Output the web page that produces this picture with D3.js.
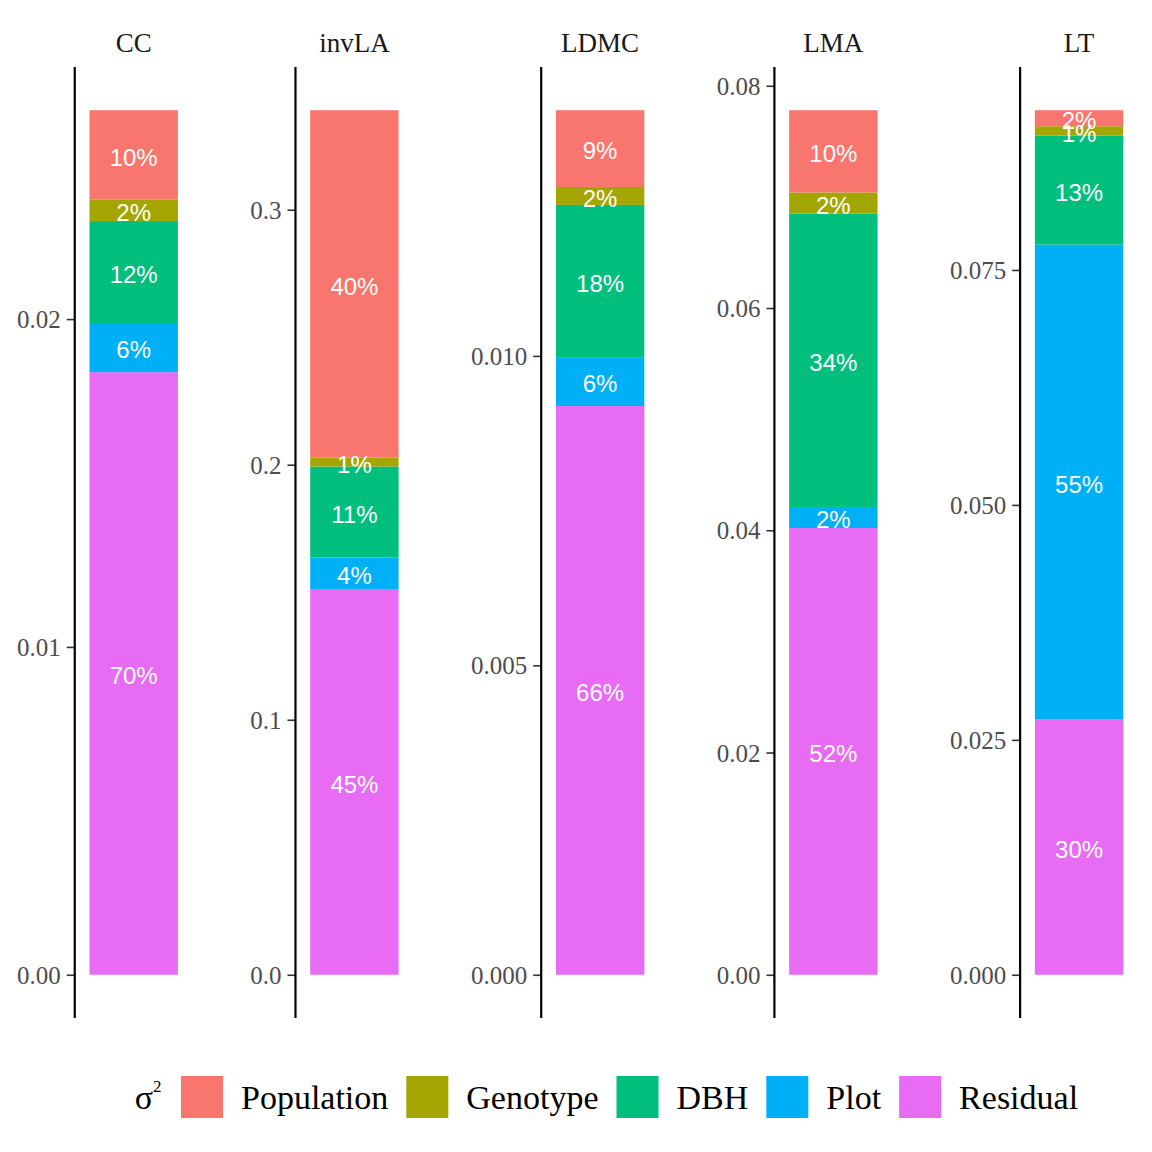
<!DOCTYPE html>
<html>
<head>
<meta charset="utf-8">
<script src="https://cdn.jsdelivr.net/npm/d3@7"></script>
<style>
  html, body { margin: 0; padding: 0; background: #fff; }
  svg { display: block; }
</style>
</head>
<body>
<svg id="chart" width="1152" height="1152"></svg>
<script>
// ---- data ----
const traits = ["CC", "invLA", "LDMC", "LMA", "LT"];
const components = ["Population", "Genotype", "DBH", "Plot", "Residual"];
const colors = ["#F8766D", "#A3A500", "#00BF7D", "#00B0F6", "#E76BF3"];

const population = [0.00273, 0.1362, 0.00124, 0.0074, 0.0017];
const genotype   = [0.00065, 0.0035, 0.00029, 0.0019, 0.0010];
const dbh        = [0.00311, 0.0357, 0.00246, 0.0264, 0.0116];
const plotVar    = [0.00150, 0.0126, 0.00079, 0.0019, 0.0505];
const residual   = [0.01838, 0.151,  0.00919, 0.0402, 0.0272];

const tickValues = [
  [0, 0.01, 0.02],
  [0, 0.1, 0.2, 0.3],
  [0, 0.005, 0.010],
  [0, 0.02, 0.04, 0.06, 0.08],
  [0, 0.025, 0.050, 0.075]
];
const tickLabels = [
  ["0.00", "0.01", "0.02"],
  ["0.0", "0.1", "0.2", "0.3"],
  ["0.000", "0.005", "0.010"],
  ["0.00", "0.02", "0.04", "0.06", "0.08"],
  ["0.000", "0.025", "0.050", "0.075"]
];

// ---- build table ----
const seriesByComp = {
  Population: population, Genotype: genotype, DBH: dbh, Plot: plotVar, Residual: residual
};
const table = traits.map((t, i) => {
  const row = { trait: t };
  components.forEach(c => row[c] = seriesByComp[c][i]);
  return row;
});
// stack order: Residual at bottom, Population on top
const stackKeys = components.slice().reverse();
const stacked = d3.stack().keys(stackKeys)(table);

const color = d3.scaleOrdinal().domain(components).range(colors);

const svg = d3.select("#chart");
const W = 1152, H = 1152;

const serif = "'Liberation Serif', 'Times New Roman', serif";
const sans = "'Liberation Sans', Arial, Helvetica, sans-serif";
const tickFont = 25, stripFont = 27, labelFont = 24, legendFont = 34;

// measure tick label widths
const measure = svg.append("g").attr("opacity", 0);
function textWidth(str, size, family) {
  const t = measure.append("text").attr("font-size", size).attr("font-family", family).text(str);
  const w = t.node().getComputedTextLength();
  t.remove();
  return w;
}
const labelW = tickLabels.map(arr => d3.max(arr, s => textWidth(s, tickFont, serif)));

const marginL = 17, marginR = 14, spacing = 57.6, tickLen = 8, tickGap = 6;
const panelTop = 67, panelBottom = 1018;
const panelW = (W - marginL - marginR - 4 * spacing - d3.sum(labelW) - 5 * (tickLen + tickGap)) / 5;

let xCursor = marginL;
const panelX = [];
traits.forEach((t, i) => {
  xCursor += labelW[i] + tickGap + tickLen;
  panelX.push(xCursor);
  xCursor += panelW + spacing;
});

traits.forEach((t, i) => {
  const total = d3.sum(components, c => seriesByComp[c][i]);
  const y = d3.scaleLinear().domain([-0.05 * total, 1.05 * total]).range([panelBottom, panelTop]);
  // discrete x: bar width 0.9 within 1.2 range units
  const x = d3.scaleLinear().domain([0.4, 1.6]).range([0, panelW]);
  const barX = x(1 - 0.45);
  const barW = x(1 + 0.45) - barX;

  const g = svg.append("g").attr("transform", `translate(${panelX[i]},0)`);

  // bars
  stacked.forEach(layer => {
    const d = layer[i];
    g.append("rect")
      .attr("x", barX)
      .attr("width", barW)
      .attr("y", y(d[1]))
      .attr("height", y(d[0]) - y(d[1]))
      .attr("fill", color(layer.key));
  });

  // labels
  stacked.forEach(layer => {
    const d = layer[i];
    const pct = Math.round((d[1] - d[0]) / total * 100);
    g.append("text")
      .attr("x", x(1))
      .attr("y", y((d[0] + d[1]) / 2))
      .attr("dy", "0.45em")
      .attr("text-anchor", "middle")
      .attr("font-family", sans)
      .attr("font-size", labelFont)
      .attr("fill", "#ffffff")
      .text(pct + "%");
  });

  // axis
  const axis = d3.axisLeft(y)
    .tickValues(tickValues[i])
    .tickFormat((v, k) => tickLabels[i][k])
    .tickSize(tickLen)
    .tickPadding(tickGap);
  const ag = g.append("g").call(axis);
  ag.select(".domain").remove();
  ag.append("line")
    .attr("x1", 0).attr("x2", 0)
    .attr("y1", panelTop).attr("y2", panelBottom)
    .attr("stroke", "#000").attr("stroke-width", 2.2);
  ag.selectAll(".tick line").attr("stroke", "#333333").attr("stroke-width", 1.6);
  ag.selectAll(".tick text")
    .attr("font-family", serif)
    .attr("font-size", tickFont)
    .attr("fill", "#4D4D4D")
    .attr("dy", "0.34em");

  // strip title
  g.append("text")
    .attr("x", x(1))
    .attr("y", 52)
    .attr("text-anchor", "middle")
    .attr("font-family", serif)
    .attr("font-size", stripFont)
    .attr("fill", "#1A1A1A")
    .text(t);
});

// ---- legend ----
const legendY = 1097, keySize = 42, keyGap = 18, itemGap = 18;
const titleW = textWidth("σ", legendFont, serif) + 9;
const itemW = components.map(c => keySize + keyGap + textWidth(c, legendFont, serif));
const totalW = titleW + 19 + d3.sum(itemW) + itemGap * (components.length - 1);
const panelsLeft = panelX[0], panelsRight = panelX[4] + panelW;
let lx = (panelsLeft + panelsRight) / 2 - totalW / 2;

const lg = svg.append("g");
const title = lg.append("text")
  .attr("x", lx)
  .attr("y", legendY + 12)
  .attr("font-family", serif)
  .attr("font-size", legendFont)
  .attr("fill", "#000");
title.append("tspan").text("σ");
title.append("tspan").attr("font-size", 17).attr("dy", -17).text("2");
lx += titleW + 19;

components.forEach((c, k) => {
  lg.append("rect")
    .attr("x", lx).attr("y", legendY - keySize / 2)
    .attr("width", keySize).attr("height", keySize)
    .attr("fill", color(c));
  lg.append("text")
    .attr("x", lx + keySize + keyGap)
    .attr("y", legendY + 12)
    .attr("font-family", serif)
    .attr("font-size", legendFont)
    .attr("fill", "#000")
    .text(c);
  lx += itemW[k] + itemGap;
});
measure.remove();
</script>
</body>
</html>
